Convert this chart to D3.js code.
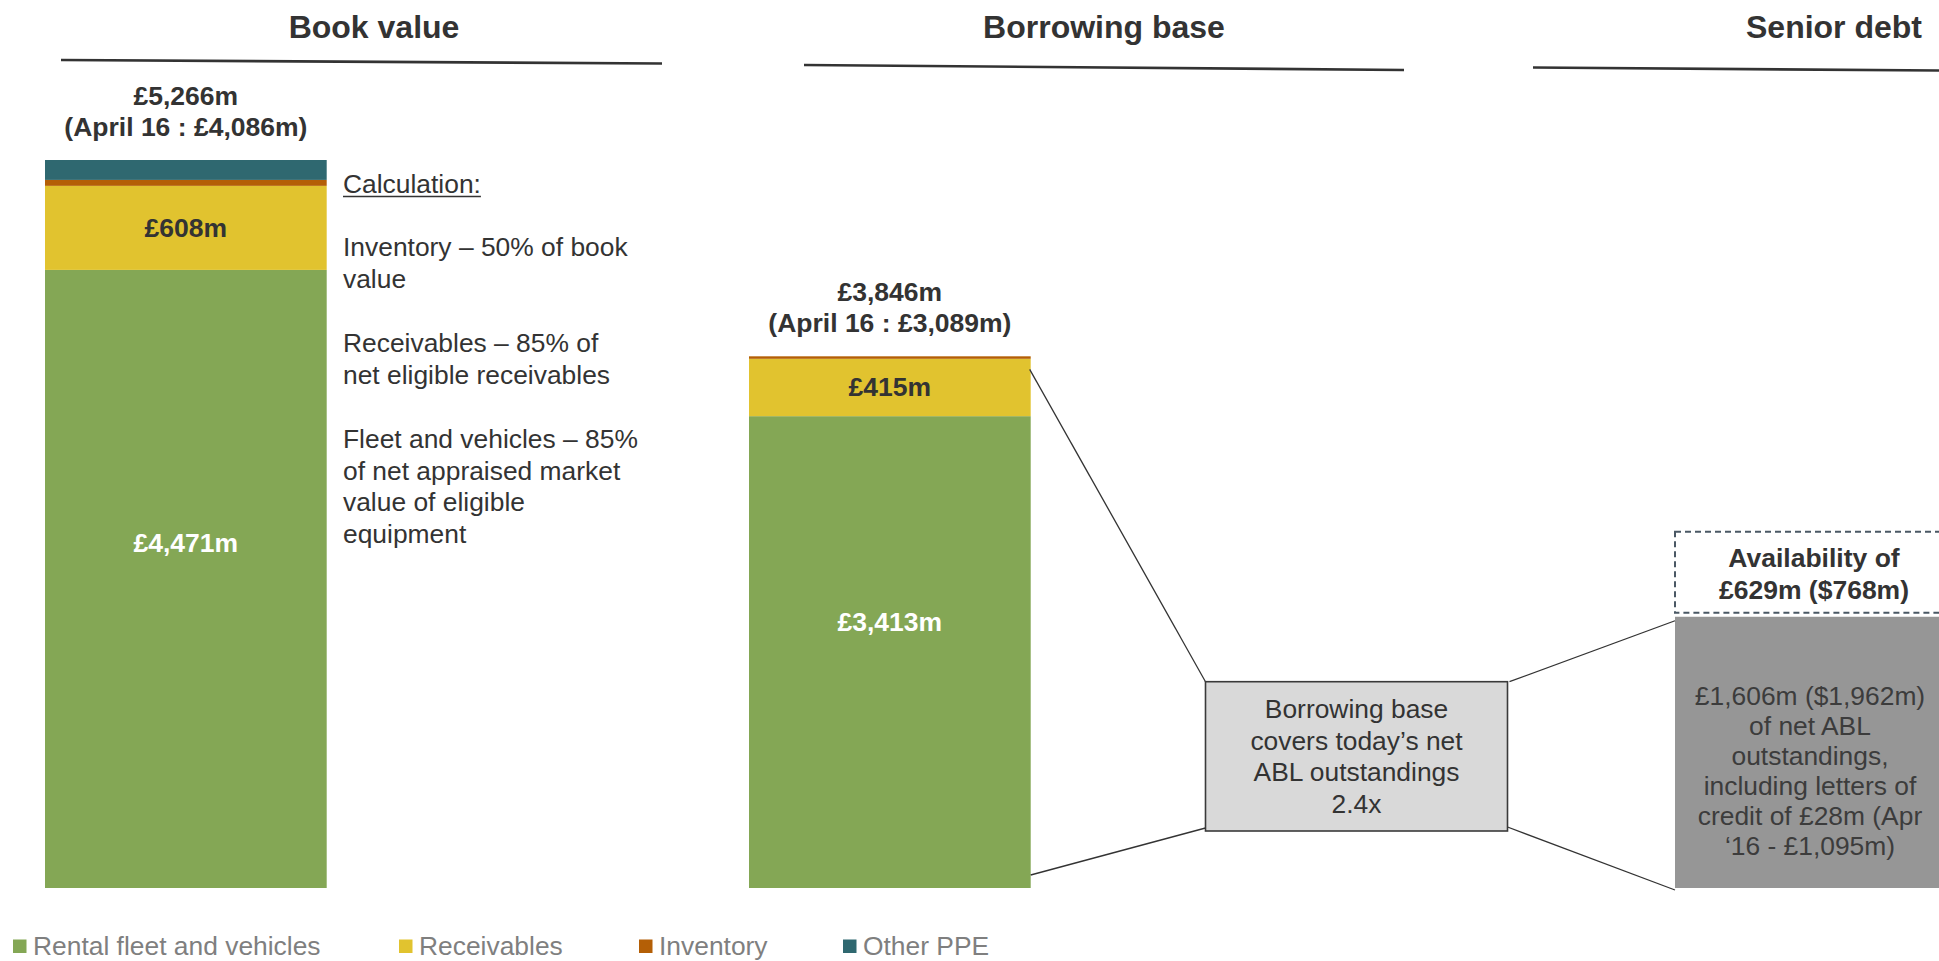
<!DOCTYPE html>
<html>
<head>
<meta charset="utf-8">
<script src="https://cdn.jsdelivr.net/npm/d3@7"></script>
<style>
  html, body { margin: 0; padding: 0; background: #fff; overflow: hidden; }
  svg { display: block; font-family: "Liberation Sans", Arial, Helvetica, sans-serif; }
</style>
</head>
<body>
<svg id="chart" width="1939" height="961"></svg>
<script>
// ---- data (£m unless stated) ----
const categories   = ["Book value", "Borrowing base", "Senior debt"];
const seriesNames  = ["Rental fleet and vehicles", "Receivables", "Inventory", "Other PPE"];
const rentalFleet  = [4471, 3413];
const receivables  = [608, 415];
const inventory    = [43, 18];
const otherPPE     = [144, 0];
const totals       = [5266, 3846];
const april16Totals = [4086, 3089];

const netAblGbp = 1606;        // net ABL outstandings, £m
const netAblUsd = 1962;        // same, $m
const lettersOfCredit = 28;
const april16Abl = 1095;
const availabilityGbp = 629;
const availabilityUsd = 768;
const coverage = 2.4;

const calcParagraphs = [
  ["Inventory \u2013 50% of book", "value"],
  ["Receivables \u2013 85% of", "net eligible receivables"],
  ["Fleet and vehicles \u2013 85%", "of net appraised market", "value of eligible", "equipment"]
];

// ---- styling ----
const colors = {
  "Rental fleet and vehicles": "#84a755",
  "Receivables": "#e1c32f",
  "Inventory": "#b45f06",
  "Other PPE": "#2f6870"
};
const ink = "#333333";
const fmt = d3.format(",");
const gbp = v => `\u00a3${fmt(v)}m`;
const usd = v => `$${fmt(v)}m`;

const svg = d3.select("#chart");

// ---- scales ----
const baseY = 888;
const y = d3.scaleLinear().domain([0, d3.max(totals)]).range([baseY, 160]);
const x = d3.scaleOrdinal().domain(categories).range([45, 749, 1675]);
const barW = 281.7;

// ---- panel titles with rules ----
const titleX = [374, 1104, 1834];
const rules = [
  [[61, 60], [662, 63.5]],
  [[804, 65], [1404, 70]],
  [[1533, 67.5], [2133, 72]]
];
svg.selectAll("text.title")
  .data(categories)
  .join("text")
  .attr("class", "title")
  .attr("x", (d, i) => titleX[i])
  .attr("y", 38)
  .attr("text-anchor", "middle")
  .attr("font-size", 32)
  .attr("font-weight", "bold")
  .attr("fill", ink)
  .text(d => d);
svg.selectAll("line.rule")
  .data(rules)
  .join("line")
  .attr("class", "rule")
  .attr("x1", d => d[0][0]).attr("y1", d => d[0][1])
  .attr("x2", d => d[1][0]).attr("y2", d => d[1][1])
  .attr("stroke", "#333").attr("stroke-width", 2.6);

// ---- stacked bars ----
const rows = [0, 1].map(i => ({
  cat: categories[i],
  "Rental fleet and vehicles": rentalFleet[i],
  "Receivables": receivables[i],
  "Inventory": inventory[i],
  "Other PPE": otherPPE[i]
}));
const stacked = d3.stack().keys(seriesNames)(rows);

const layers = svg.append("g").selectAll("g")
  .data(stacked)
  .join("g")
  .attr("fill", d => colors[d.key]);
layers.selectAll("rect")
  .data(d => d.map(s => ({ key: d.key, s })))
  .join("rect")
  .attr("x", d => x(d.s.data.cat))
  .attr("width", barW)
  .attr("y", d => y(d.s[1]))
  .attr("height", d => y(d.s[0]) - y(d.s[1]));

// segment value labels
const segLabels = [];
stacked.forEach(layer => {
  layer.forEach(s => {
    if (layer.key === "Rental fleet and vehicles") {
      segLabels.push({ cat: s.data.cat, v: s[1] - s[0], yPos: y(s[1]) + 0.456 * (y(s[0]) - y(s[1])), fill: "#ffffff" });
    } else if (layer.key === "Receivables") {
      segLabels.push({ cat: s.data.cat, v: s[1] - s[0], yPos: (y(s[0]) + y(s[1])) / 2 + 9, fill: ink });
    }
  });
});
svg.selectAll("text.seg")
  .data(segLabels)
  .join("text")
  .attr("class", "seg")
  .attr("x", d => x(d.cat) + barW / 2)
  .attr("y", d => d.yPos)
  .attr("text-anchor", "middle")
  .attr("font-size", 26.5)
  .attr("font-weight", "bold")
  .attr("fill", d => d.fill)
  .text(d => gbp(d.v));

// totals above bars
totals.forEach((t, i) => {
  const cx = x(categories[i]) + barW / 2;
  const top = y(t);
  const g = svg.append("text")
    .attr("text-anchor", "middle")
    .attr("font-size", 26.5)
    .attr("font-weight", "bold")
    .attr("fill", ink);
  g.append("tspan").attr("x", cx).attr("y", top - 55).text(gbp(t));
  g.append("tspan").attr("x", cx).attr("y", top - 24).text(`(April 16 : ${gbp(april16Totals[i])})`);
});

// ---- calculation notes ----
const calcX = 343;
const calc = svg.append("g").attr("font-size", 26.4).attr("fill", ink);
const head = calc.append("text").attr("x", calcX).attr("y", 193.3).text("Calculation:");
const headW = head.node().getComputedTextLength();
calc.append("line")
  .attr("x1", calcX).attr("x2", calcX + headW)
  .attr("y1", 196.5).attr("y2", 196.5)
  .attr("stroke", ink).attr("stroke-width", 1.3);
let lineY = 193.3 + 63;
calcParagraphs.forEach(par => {
  par.forEach(line => {
    calc.append("text").attr("x", calcX).attr("y", lineY).text(line);
    lineY += 31.5;
  });
  lineY += 33;
});

// ---- senior debt bar ----
const sdX = x(categories[2]);
const sdTop = y(netAblUsd);
svg.append("rect")
  .attr("x", sdX).attr("y", sdTop)
  .attr("width", barW).attr("height", baseY - sdTop)
  .attr("fill", "#969696");
const sdLines = [
  `${gbp(netAblGbp)} (${usd(netAblUsd)})`,
  "of net ABL",
  "outstandings,",
  "including letters of",
  `credit of ${gbp(lettersOfCredit)} (Apr`,
  `\u201816 - ${gbp(april16Abl)})`
];
svg.append("g").selectAll("text")
  .data(sdLines)
  .join("text")
  .attr("x", sdX + 135)
  .attr("y", (d, i) => sdTop + 88 + i * 30)
  .attr("text-anchor", "middle")
  .attr("font-size", 26.4)
  .attr("fill", "#3c3c3c")
  .text(d => d);

// availability (dashed box above the bar)
const avH = 81;
const avTop = sdTop - 4 - avH;
svg.append("rect")
  .attr("x", sdX).attr("y", avTop)
  .attr("width", barW).attr("height", avH)
  .attr("fill", "none")
  .attr("stroke", "#4a5864").attr("stroke-width", 2)
  .attr("stroke-dasharray", "6,4");
const av = svg.append("text")
  .attr("text-anchor", "middle")
  .attr("font-size", 26.5)
  .attr("font-weight", "bold")
  .attr("fill", ink);
av.append("tspan").attr("x", sdX + 139).attr("y", avTop + 35.5).text("Availability of");
av.append("tspan").attr("x", sdX + 139).attr("y", avTop + 67.5).text(`${gbp(availabilityGbp)} (${usd(availabilityUsd)})`);

// ---- coverage call-out box and connectors ----
const box = { x: 1205.5, y: 681.7, w: 302, h: 149.3 };
const bbRight = x(categories[1]) + barW;
const connectors = [
  [[bbRight - 1, y(totals[1]) + 13], [box.x, box.y]],
  [[bbRight, baseY - 13], [box.x, box.y + box.h - 3]],
  [[box.x + box.w + 2, box.y], [sdX, sdTop + 4]],
  [[box.x + box.w, box.y + box.h - 4], [sdX, baseY + 2]]
];
svg.selectAll("line.conn")
  .data(connectors)
  .join("line")
  .attr("class", "conn")
  .attr("x1", d => d[0][0]).attr("y1", d => d[0][1])
  .attr("x2", d => d[1][0]).attr("y2", d => d[1][1])
  .attr("stroke", "#333").attr("stroke-width", 1.3);

svg.append("rect")
  .attr("x", box.x).attr("y", box.y)
  .attr("width", box.w).attr("height", box.h)
  .attr("fill", "#d9d9d9")
  .attr("stroke", "#3a3a3a").attr("stroke-width", 1.6);
const boxLines = ["Borrowing base", "covers today\u2019s net", "ABL outstandings", `${coverage}x`];
svg.append("g").selectAll("text")
  .data(boxLines)
  .join("text")
  .attr("x", box.x + box.w / 2)
  .attr("y", (d, i) => box.y + 36.5 + i * 31.6)
  .attr("text-anchor", "middle")
  .attr("font-size", 26.4)
  .attr("fill", ink)
  .text(d => d);

// ---- legend ----
const legendX = [13, 399, 639, 843];
const legend = svg.append("g").selectAll("g")
  .data(seriesNames)
  .join("g")
  .attr("transform", (d, i) => `translate(${legendX[i]},0)`);
legend.append("rect")
  .attr("x", 0).attr("y", 939.5)
  .attr("width", 13.5).attr("height", 13.5)
  .attr("fill", d => colors[d]);
legend.append("text")
  .attr("x", 20).attr("y", 954.5)
  .attr("font-size", 26.4)
  .attr("fill", "#7f7f7f")
  .text(d => d);
</script>
</body>
</html>
